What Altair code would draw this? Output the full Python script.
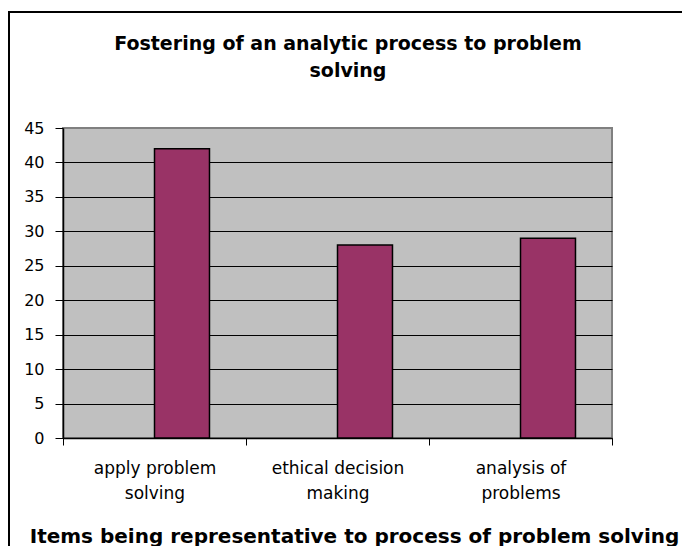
import altair as alt
import pandas as pd

# ---- data ----
CATEGORIES = ["apply problem solving", "ethical decision making", "analysis of problems"]
LABEL_LINES = [["apply problem", "solving"], ["ethical decision", "making"], ["analysis of", "problems"]]
VALUES = [42, 28, 29]
SERIES = ["(blank)", "Series1"]          # Excel-style cluster: first slot empty
Y_TICKS = [0, 5, 10, 15, 20, 25, 30, 35, 40, 45]
TITLE = ["Fostering of an analytic process to problem", "solving"]
X_TITLE = "Items being representative to process of problem solving"

df = pd.DataFrame({"item": CATEGORIES, "value": VALUES, "series": SERIES[1]})

W, H = 549, 310
FONT = "DejaVu Sans"

label_expr = " : ".join(
    f"datum.label == '{c}' ? {lines!r}" for c, lines in zip(CATEGORIES, LABEL_LINES)
) + " : datum.label"

bars = alt.Chart(df).mark_bar(
    color="#993366", stroke="black", strokeWidth=1.5
).encode(
    x=alt.X(
        "item:N",
        sort=CATEGORIES,
        scale=alt.Scale(paddingInner=0, paddingOuter=0),
        axis=alt.Axis(
            title=X_TITLE,
            titleFont=FONT, titleFontSize=20, titleFontWeight="bold", titleColor="black",
            titleX=291, titleY=104, titleBaseline="alphabetic", titleAlign="center",
            titleAnchor="middle",
            labelExpr=label_expr, labelAngle=0, labelFont=FONT, labelFontSize=17,
            labelColor="black", labelLineHeight=25, labelPadding=15,
            labelBaseline="top",
            tickBand="extent", tickSize=7, tickColor="black", tickWidth=1,
            domainColor="black", domainWidth=1.5, grid=False,
        ),
    ),
    xOffset=alt.XOffset(
        "series:N",
        scale=alt.Scale(domain=SERIES, paddingInner=0, paddingOuter=0.664),
    ),
    y=alt.Y(
        "value:Q",
        scale=alt.Scale(domain=[0, 45], nice=False),
        axis=alt.Axis(
            title=None, values=Y_TICKS, labelFont=FONT, labelFontSize=16,
            labelColor="black", labelPadding=11, tickSize=8, tickColor="black",
            domainColor="black", domainWidth=1.5,
            grid=True, gridWidth=1.2,
            gridColor={"condition": {"test": "datum.value >= 45", "value": "#808080"},
                       "value": "black"},
        ),
    ),
)

outer = alt.Chart(df).mark_rect(
    fill=None, filled=False, stroke="black", strokeWidth=2
).encode(
    x=alt.value(-54), x2=alt.value(W + 100), y=alt.value(-116), y2=alt.value(H + 140)
)

title = alt.Chart(df).mark_text(
    font=FONT, fontSize=19, fontWeight="bold", color="black",
    align="center", baseline="alphabetic", lineHeight=27,
).encode(
    text=alt.value(TITLE), x=alt.value(285), y=alt.value(-78)
).transform_filter(f"datum.item == '{CATEGORIES[0]}'")

chart = alt.layer(outer, bars, title).properties(
    width=W, height=H,
    autosize=alt.AutoSizeParams(type="none"),
    padding={"left": 55, "top": 120, "right": 70, "bottom": 108},
    background="white",
).configure_view(
    fill="#C0C0C0", stroke="#808080", strokeWidth=2
)

chart.save("out.html", embed_options={"renderer": "svg", "actions": False})
